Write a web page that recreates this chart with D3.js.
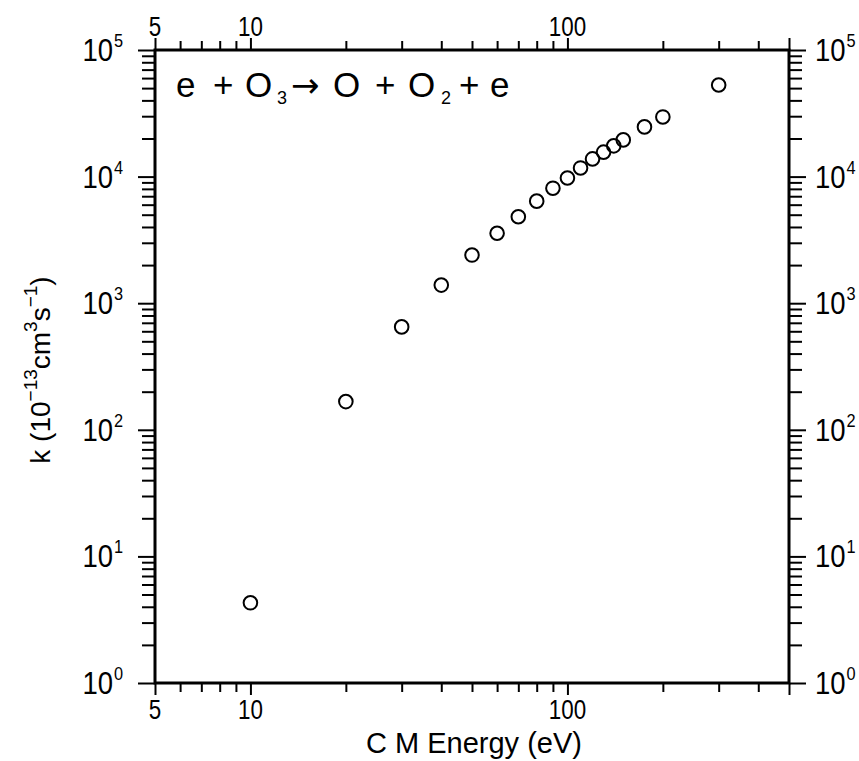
<!DOCTYPE html>
<html>
<head>
<meta charset="utf-8">
<script src="https://cdn.jsdelivr.net/npm/d3@7/dist/d3.min.js"></script>
<style>
  html, body { margin: 0; padding: 0; background: #fff; }
  svg { display: block; }
  text { font-family: "Liberation Sans", Arial, sans-serif; fill: #000; }
</style>
</head>
<body>
<svg id="chart" width="859" height="761"></svg>
<script>
// Rate coefficient for e + O3 -> O + O2 + e versus centre-of-mass energy
const energy = [10, 20, 30, 40, 50, 60, 70, 80, 90, 100, 110, 120, 130, 140, 150, 175, 200, 300];
const rate   = [4.3, 167, 650, 1390, 2400, 3570, 4820, 6400, 8100, 9750, 11700, 13800, 15600, 17500, 19500, 24700, 29600, 52900];

const xDomain = [5, 500];
const yDomain = [1, 1e5];
const xLabelTicks = [5, 10, 100];
const xMajorTicks = [5, 10, 100, 500];
const yExponents = [0, 1, 2, 3, 4, 5];

const margin = { top: 50, right: 70, bottom: 78, left: 155 };
const W = 859, H = 761;
const svg = d3.select("#chart");

const x = d3.scaleLog().domain(xDomain).range([margin.left, W - margin.right]);
const y = d3.scaleLog().domain(yDomain).range([H - margin.bottom, margin.top]);

// every 1..9 x 10^n tick inside the domains
const xTicks = [];
[1, 10, 100].forEach(d => { for (let m = 1; m <= 9; m++) { const v = m * d; if (v >= 5 && v <= 500) xTicks.push(v); } });
const yTicks = [];
for (let e = 0; e < 5; e++) for (let m = 1; m <= 9; m++) yTicks.push(m * Math.pow(10, e));
yTicks.push(1e5);

const isXMajor = v => xMajorTicks.includes(v);
const isYMajor = v => Math.abs(Math.log10(v) - Math.round(Math.log10(v))) < 1e-9;

function styleAxis(g, majorFn, minorLen, majorLen, sign, vertical) {
  g.selectAll(".domain").remove();
  g.selectAll(".tick line")
    .attr("stroke", "#000")
    .attr("stroke-width", 2)
    .each(function(d) {
      const len = majorFn(d) ? majorLen : minorLen;
      d3.select(this).attr(vertical ? "x2" : "y2", sign * len);
    });
  g.selectAll(".tick text").remove();
}

const plotB = H - margin.bottom, plotT = margin.top, plotL = margin.left, plotR = W - margin.right;

svg.append("g").attr("transform", `translate(0,${plotB})`)
  .call(d3.axisBottom(x).tickValues(xTicks).tickFormat(""))
  .call(g => styleAxis(g, isXMajor, 9, 12, 1, false));
svg.append("g").attr("transform", `translate(0,${plotT})`)
  .call(d3.axisTop(x).tickValues(xTicks).tickFormat(""))
  .call(g => styleAxis(g, isXMajor, 9, 12, -1, false));
svg.append("g").attr("transform", `translate(${plotL},0)`)
  .call(d3.axisLeft(y).tickValues(yTicks).tickFormat(""))
  .call(g => styleAxis(g, isYMajor, 13, 17, -1, true));
svg.append("g").attr("transform", `translate(${plotR},0)`)
  .call(d3.axisRight(y).tickValues(yTicks).tickFormat(""))
  .call(g => styleAxis(g, isYMajor, 13, 17, 1, true));

// frame
svg.append("rect")
  .attr("x", plotL).attr("y", plotT)
  .attr("width", plotR - plotL).attr("height", plotB - plotT)
  .attr("fill", "none").attr("stroke", "#000").attr("stroke-width", 3);

// x tick labels (top and bottom), slightly condensed
xLabelTicks.forEach(v => {
  [plotB + 36, plotT - 14].forEach(yy => {
    svg.append("g").attr("transform", `translate(${x(v)},${yy}) scale(0.8,1)`)
      .append("text").attr("text-anchor", "middle").attr("font-size", 28).text(v);
  });
});

// y tick labels 10^n on both sides
function powerLabel(xPos, yPos, exp, anchor) {
  const t = svg.append("g").attr("transform", `translate(${xPos},${yPos + 11}) scale(0.86,1)`)
    .append("text").attr("text-anchor", anchor).attr("font-size", 32);
  t.append("tspan").text("10");
  t.append("tspan").attr("font-size", 19).attr("dy", -14).attr("dx", 1).text(exp);
}
yExponents.forEach(e => {
  powerLabel(123, y(Math.pow(10, e)), e, "end");
  powerLabel(815, y(Math.pow(10, e)), e, "start");
});

// axis titles
svg.append("text").attr("x", (plotL + plotR) / 2 + 2).attr("y", 753)
  .attr("text-anchor", "middle").attr("font-size", 29)
  .text("C M Energy (eV)");

const yt = svg.append("g").attr("transform", "translate(50,370) rotate(-90)")
  .append("text").attr("text-anchor", "middle").attr("font-size", 28);
yt.append("tspan").text("k (10");
yt.append("tspan").attr("font-size", 19).attr("dy", -13).text("\u221213");
yt.append("tspan").attr("dy", 13).text("cm");
yt.append("tspan").attr("font-size", 19).attr("dy", -13).text("3");
yt.append("tspan").attr("dy", 13).text("s");
yt.append("tspan").attr("font-size", 19).attr("dy", -13).text("\u22121");
yt.append("tspan").attr("dy", 13).text(")");

// reaction label, set piece by piece for its wide spacing
const reaction = [
  { t: "e", x: 176 }, { t: "+", x: 213 }, { t: "O", x: 245 }, { t: "3", x: 277, sub: true },
  { t: "\u2192", x: 291, arrow: true }, { t: "O", x: 333 }, { t: "+", x: 375 },
  { t: "O", x: 408 }, { t: "2", x: 441, sub: true }, { t: "+", x: 459 }, { t: "e", x: 490 }
];
const rx = svg.append("text").attr("y", 97).attr("font-size", 35);
reaction.forEach(p => {
  const s = rx.append("tspan").attr("x", p.x).attr("y", p.sub ? 104 : 97).text(p.t);
  if (p.sub) s.attr("font-size", 18);
  if (p.arrow) s.attr("font-family", "DejaVu Sans").attr("font-size", 34);
});

// data points
const pts = energy.map((e, i) => ({ e, k: rate[i] }));
svg.append("g").selectAll("circle").data(pts).join("circle")
  .attr("cx", d => x(d.e)).attr("cy", d => y(d.k)).attr("r", 6.8)
  .attr("fill", "none").attr("stroke", "#000").attr("stroke-width", 2);
</script>
</body>
</html>
